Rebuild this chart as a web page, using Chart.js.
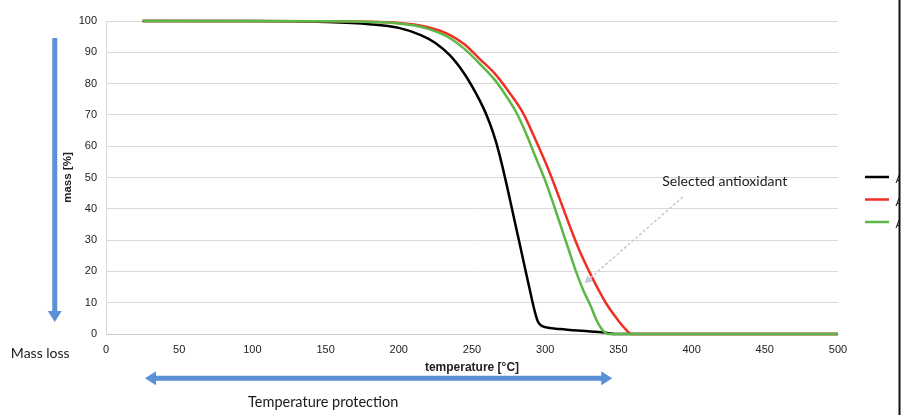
<!DOCTYPE html>
<html>
<head>
<meta charset="utf-8">
<script src="https://cdn.jsdelivr.net/npm/chart.js@4"></script>
<style>
  html, body { margin: 0; padding: 0; background: #ffffff; overflow: hidden; }
  #wrap { position: relative; width: 903px; height: 415px; }
</style>
</head>
<body>
<div id="wrap"><canvas id="c" width="903" height="415"></canvas></div>
<script>
// ---- data ----
const seriesNames = ["Antioxidant-free", "Antioxidant A", "Antioxidant B"];
const blackTemp = [25, 100, 150, 180, 200, 215, 225, 235, 245, 252, 258, 262, 266, 270, 274, 278, 282, 286, 290, 293, 295, 297, 300, 310, 325, 340, 348, 500];
const blackMass = [100, 100, 99.7, 99, 97.8, 95.5, 93, 89, 83, 77.5, 72, 67.5, 62, 55, 47, 38.5, 30, 21.5, 13, 7, 4, 2.8, 2.2, 1.6, 1, 0.5, 0, 0];
const redTemp = [25, 150, 200, 220, 235, 245, 255, 265, 275, 285, 292, 300, 306, 312, 318, 324, 330, 336, 342, 348, 354, 359, 500];
const redMass = [100, 99.9, 99.4, 98, 95.5, 92.5, 88, 83.5, 77.5, 70.5, 63.5, 55, 48, 40.5, 33, 26, 20, 14.5, 9.5, 5.5, 2, 0, 0];
const greenTemp = [25, 150, 200, 220, 235, 245, 255, 265, 272, 280, 287, 293, 300, 306, 311, 316, 321, 326, 331, 335, 338, 341, 343, 500];
const greenMass = [100, 99.9, 99.2, 97.5, 94.5, 91, 86.5, 81.5, 77, 71, 64, 57, 49, 41, 34, 27, 20, 14, 9, 4.5, 2, 0.4, 0, 0];
const xTicks = [0, 50, 100, 150, 200, 250, 300, 350, 400, 450, 500];
const yTicks = [0, 10, 20, 30, 40, 50, 60, 70, 80, 90, 100];
const xTitle = "temperature [°C]";
const yTitle = "mass [%]";
const noteMassLoss = "Mass loss";
const noteTempProtection = "Temperature protection";
const noteSelected = "Selected antioxidant";

// ---- styles ----
const colBlack = "#000000", colRed = "#ee3124", colGreen = "#5cb846";
const arrowBlue = "#5b8fd6";

function pts(xs, ys) { return xs.map((x, i) => ({ x: x, y: ys[i] })); }

const legendOrder = [2, 1, 0]; // black, red, green (datasets are stored green first so it is drawn on top)

const annot = {
  id: "annot",
  afterDraw(chart) {
    const ctx = chart.ctx, xs = chart.scales.x, ys = chart.scales.y;
    const X = v => xs.getPixelForValue(v), Y = v => ys.getPixelForValue(v);
    ctx.save();
    // vertical blue arrow (mass loss)
    drawArrow(ctx, X(-35), Y(94.6), X(-35), Y(3.8), arrowBlue, 5, false);
    // horizontal double arrow (temperature protection)
    drawArrow(ctx, X(26.6), Y(-14.1), X(345.8), Y(-14.1), arrowBlue, 5, true);
    // faint arrow to selected antioxidant
    ctx.setLineDash([3, 2]);
    drawArrow(ctx, X(394), Y(43.8), X(327), Y(16.3), "#c2cadb", 1.5, false, 7);
    ctx.setLineDash([]);
    // texts
    ctx.fillStyle = "#1a1a1a";
    ctx.textBaseline = "middle";
    ctx.textAlign = "left";
    ctx.font = "14px Lato";
    ctx.fillText(noteMassLoss, X(-65), Y(-6.2));
    ctx.font = "14.5px Lato";
    ctx.fillText(noteTempProtection, X(97), Y(-21.7));
    ctx.font = "14px Lato";
    ctx.fillText(noteSelected, X(380), Y(48.6));
    // legend (cut off by the frame)
    legendOrder.forEach((di, i) => {
      const ds = chart.data.datasets[di];
      const yy = 177 + i * 22.5;
      ctx.strokeStyle = ds.borderColor;
      ctx.lineWidth = 2.5;
      ctx.beginPath(); ctx.moveTo(865, yy); ctx.lineTo(889, yy); ctx.stroke();
      ctx.fillStyle = "#222";
      ctx.font = "11px 'Liberation Sans'";
      ctx.fillText(ds.label, 895.5, yy + 3);
    });
    // frame on the right
    ctx.fillStyle = "#ffffff";
    ctx.fillRect(900, 0, 3, chart.height);
    ctx.fillStyle = "#111111";
    ctx.fillRect(898.5, 0, 2, chart.height);
    ctx.restore();
  }
};

function drawArrow(ctx, x1, y1, x2, y2, color, w, both, headLen) {
  const hl = headLen || 11, hw = headLen ? headLen * 0.6 : 7;
  const ang = Math.atan2(y2 - y1, x2 - x1);
  ctx.strokeStyle = color; ctx.fillStyle = color; ctx.lineWidth = w;
  const sx = both ? x1 + Math.cos(ang) * hl * 0.8 : x1;
  const sy = both ? y1 + Math.sin(ang) * hl * 0.8 : y1;
  ctx.beginPath();
  ctx.moveTo(sx, sy);
  ctx.lineTo(x2 - Math.cos(ang) * hl * 0.8, y2 - Math.sin(ang) * hl * 0.8);
  ctx.stroke();
  head(x2, y2, ang);
  if (both) head(x1, y1, ang + Math.PI);
  function head(px, py, a) {
    ctx.beginPath();
    ctx.moveTo(px, py);
    ctx.lineTo(px - Math.cos(a) * hl - Math.sin(a) * hw, py - Math.sin(a) * hl + Math.cos(a) * hw);
    ctx.lineTo(px - Math.cos(a) * hl + Math.sin(a) * hw, py - Math.sin(a) * hl - Math.cos(a) * hw);
    ctx.closePath();
    ctx.fill();
  }
}

const lineDs = (label, data, color) => ({
  label: label, data: data, borderColor: color, backgroundColor: color,
  borderWidth: 2.5, pointRadius: 0, cubicInterpolationMode: "monotone", fill: false, clip: 6
});

new Chart(document.getElementById("c"), {
  type: "line",
  data: {
    datasets: [
      lineDs(seriesNames[2], pts(greenTemp, greenMass), colGreen),
      lineDs(seriesNames[1], pts(redTemp, redMass), colRed),
      lineDs(seriesNames[0], pts(blackTemp, blackMass), colBlack)
    ]
  },
  options: {
    responsive: false,
    animation: false,
    layout: { padding: { left: 60.8, right: 65, top: 21, bottom: 39.8 } },
    plugins: { legend: { display: false }, tooltip: { enabled: false } },
    scales: {
      x: {
        type: "linear", min: 0, max: 500,
        afterBuildTicks: s => { s.ticks = xTicks.map(v => ({ value: v })); },
        afterFit: s => { s.height = 41.2; },
        grid: { display: false, drawTicks: false, z: -2 },
        border: { display: true, color: "#c8c8c8", width: 1, z: -1 },
        ticks: { padding: 9, color: "#222", font: { family: "'Liberation Sans'", size: 11 }, maxRotation: 0 },
        title: { display: true, text: xTitle, color: "#222", padding: { top: 0, bottom: 0 },
                 font: { family: "'Liberation Sans'", size: 12, weight: "bold" } }
      },
      y: {
        type: "linear", min: 0, max: 100,
        afterBuildTicks: s => { s.ticks = yTicks.map(v => ({ value: v })); },
        afterFit: s => { s.width = 45.2; },
        grid: { color: "#d9d9d9", lineWidth: 1, drawTicks: false, z: -2 },
        border: { display: true, color: "#d9d9d9", width: 1, z: -1 },
        ticks: { padding: 9, color: "#222", font: { family: "'Liberation Sans'", size: 11 } },
        title: { display: true, text: yTitle, color: "#222", padding: { top: 0, bottom: 0 },
                 font: { family: "'Liberation Sans'", size: 11.5, weight: "bold" } }
      }
    }
  },
  plugins: [annot]
});
</script>
</body>
</html>
